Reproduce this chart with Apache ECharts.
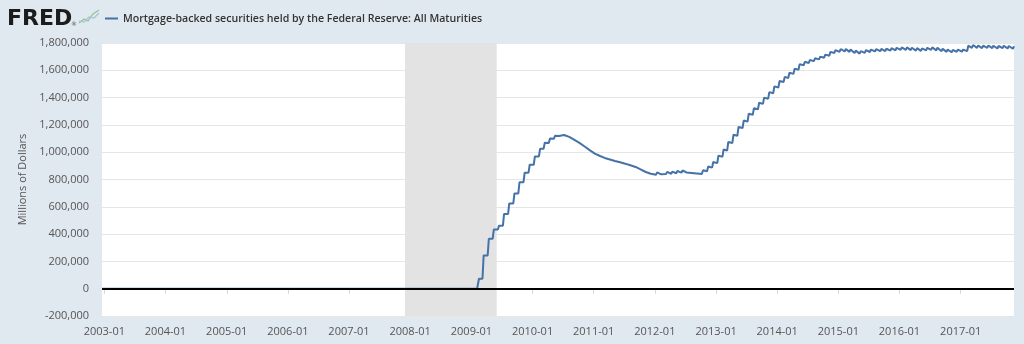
<!DOCTYPE html>
<html>
<head>
<meta charset="utf-8">
<script src="https://cdn.jsdelivr.net/npm/echarts@6/dist/echarts.min.js"></script>
<style>
html,body{margin:0;padding:0;background:#e1e9f0;}
#chart{width:1024px;height:344px;}
</style>
</head>
<body>
<div id="chart"></div>
<script>
// ---- data (millions of dollars) ----
const seriesName = 'Mortgage-backed securities held by the Federal Reserve: All Maturities';
const zeroDates = ['2002-12-18', '2009-02-04'];
const zeroValues = [0, 0];
// each month: value just before the mid-month settlement (pre) and just after it (post)
const months = [
'2009-02','2009-03','2009-04','2009-05','2009-06','2009-07','2009-08','2009-09','2009-10','2009-11','2009-12',
'2010-01','2010-02','2010-03','2010-04','2010-05','2010-06','2010-07','2010-08','2010-09','2010-10','2010-11','2010-12',
'2011-01','2011-02','2011-03','2011-04','2011-05','2011-06','2011-07','2011-08','2011-09','2011-10','2011-11','2011-12',
'2012-01','2012-02','2012-03','2012-04','2012-05','2012-06','2012-07','2012-08','2012-09','2012-10','2012-11','2012-12',
'2013-01','2013-02','2013-03','2013-04','2013-05','2013-06','2013-07','2013-08','2013-09','2013-10','2013-11','2013-12',
'2014-01','2014-02','2014-03','2014-04','2014-05','2014-06','2014-07','2014-08','2014-09','2014-10','2014-11','2014-12',
'2015-01','2015-02','2015-03','2015-04','2015-05','2015-06','2015-07','2015-08','2015-09','2015-10','2015-11','2015-12',
'2016-01','2016-02','2016-03','2016-04','2016-05','2016-06','2016-07','2016-08','2016-09','2016-10','2016-11','2016-12',
'2017-01','2017-02','2017-03','2017-04','2017-05','2017-06','2017-07','2017-08','2017-09','2017-10','2017-11'
];
const preValues = [
0,73000,244000,366000,434000,462000,548000,625000,698000,780000,850000,
908000,969000,1025000,1068000,1098000,1118000,1126000,1112000,1090000,1068000,1042000,1015000,
990000,972000,958000,947000,936000,926000,916000,904000,892000,874000,855000,842000,
835000,838000,840000,842000,846000,850000,852000,848000,844000,840000,860000,887000,
920000,967000,1012000,1067000,1120000,1177000,1224000,1274000,1314000,1354000,1392000,1432000,
1474000,1514000,1544000,1574000,1604000,1637000,1654000,1667000,1680000,1692000,1707000,1727000,
1735000,1738000,1735000,1726000,1722000,1728000,1734000,1738000,1740000,1740000,1744000,1746000,
1750000,1750000,1748000,1744000,1742000,1746000,1750000,1746000,1740000,1735000,1732000,1735000,
1736000,1740000,1765000,1764000,1762000,1764000,1762000,1760000,1762000,1760000,1758000
];
const postValues = [
73000,244000,366000,434000,462000,548000,625000,698000,780000,850000,908000,
969000,1025000,1069000,1100000,1120000,1129000,1122000,1105000,1080000,1055000,1028000,1002000,
980000,964000,952000,940000,930000,921000,910000,898000,884000,868000,860000,850000,
852000,852000,856000,858000,862000,866000,864000,860000,856000,868000,895000,928000,
975000,1020000,1075000,1128000,1185000,1232000,1282000,1322000,1362000,1400000,1440000,1482000,
1522000,1552000,1582000,1612000,1645000,1662000,1675000,1688000,1700000,1715000,1735000,1748000,
1756000,1756000,1752000,1744000,1740000,1748000,1752000,1755000,1757000,1758000,1762000,1765000,
1768000,1768000,1765000,1762000,1760000,1765000,1768000,1765000,1758000,1752000,1750000,1752000,
1752000,1780000,1785000,1782000,1780000,1782000,1780000,1778000,1780000,1778000,1776000
];
const recession = ['2007-12-01', '2009-06-01'];
const xMin = '2002-12-18';
const xMax = '2017-11-15';
const yMin = -200000, yMax = 1800000, yStep = 200000;

// ---- build series data ----
const lineData = [];
for (let i = 0; i < zeroDates.length; i++) lineData.push([zeroDates[i], zeroValues[i]]);
for (let i = 0; i < months.length; i++) {
  lineData.push([months[i] + '-08', preValues[i]]);
  lineData.push([months[i] + '-15', postValues[i]]);
}

const chart = echarts.init(document.getElementById('chart'), null, {renderer: 'canvas'});
const fmt = v => v.toLocaleString('en-US');
chart.setOption({
  animation: false,
  backgroundColor: '#e1e9f0',
  textStyle: {fontFamily: '"Open Sans", sans-serif'},
  legend: {
    left: 100, top: 8,
    icon: 'rect', itemWidth: 13, itemHeight: 2, itemGap: 6,
    data: [seriesName],
    textStyle: {fontSize: 10.6, fontWeight: 600, color: '#333', fontFamily: '"Open Sans", sans-serif'}
  },
  graphic: [
    {type: 'text', left: 7, top: 8, style: {text: 'FRED', font: 'bold 22px "DejaVu Sans"', fill: '#1c1c1c'}},
    {type: 'text', left: 71, top: 21, style: {text: '®', font: '6px "DejaVu Sans"', fill: '#555'}},
    {type: 'polyline', shape: {points: [[79,23],[84,19],[88,21],[93,14],[99,10]]}, style: {stroke: '#96c48a', lineWidth: 1.2, fill: null}},
    {type: 'polyline', shape: {points: [[79,21],[84,22],[89,17],[94,18],[99,13]]}, style: {stroke: '#a9bfdc', lineWidth: 1.2, fill: null}}
  ],
  grid: {left: 102, right: 10, top: 43, bottom: 28, show: true, backgroundColor: '#ffffff', borderWidth: 0},
  xAxis: {
    type: 'time', min: xMin, max: xMax,
    splitNumber: 15,
    minInterval: 365 * 86400000,
    maxInterval: 366 * 86400000,
    axisLine: {show: false},
    axisTick: {show: true, length: 5, lineStyle: {color: '#ccd6eb'}},
    splitLine: {show: false},
    axisLabel: {
      fontSize: 11, color: '#555', margin: 10,
      showMinLabel: false, showMaxLabel: false, hideOverlap: false,
      formatter: v => { const d = new Date(v); return d.getFullYear() + '-' + String(d.getMonth() + 1).padStart(2, '0'); }
    }
  },
  yAxis: {
    type: 'value', min: yMin, max: yMax, interval: yStep,
    name: 'Millions of Dollars', nameLocation: 'middle', nameGap: 74,
    nameTextStyle: {fontSize: 11, color: '#555'},
    axisLine: {show: false}, axisTick: {show: false},
    splitLine: {lineStyle: {color: '#e6e6e6', width: 1}},
    axisLabel: {fontSize: 11, color: '#555', margin: 13, formatter: fmt}
  },
  series: [{
    name: seriesName,
    type: 'line',
    data: lineData,
    showSymbol: false,
    color: '#4572a7',
    lineStyle: {color: '#4572a7', width: 2},
    markArea: {
      silent: true,
      itemStyle: {color: '#e3e3e3', opacity: 1},
      data: [[{xAxis: recession[0]}, {xAxis: recession[1]}]]
    },
    markLine: {
      silent: true, symbol: 'none', label: {show: false},
      lineStyle: {color: '#000', width: 2, type: 'solid'},
      data: [{yAxis: 0}]
    }
  }]
});
</script>
</body>
</html>
